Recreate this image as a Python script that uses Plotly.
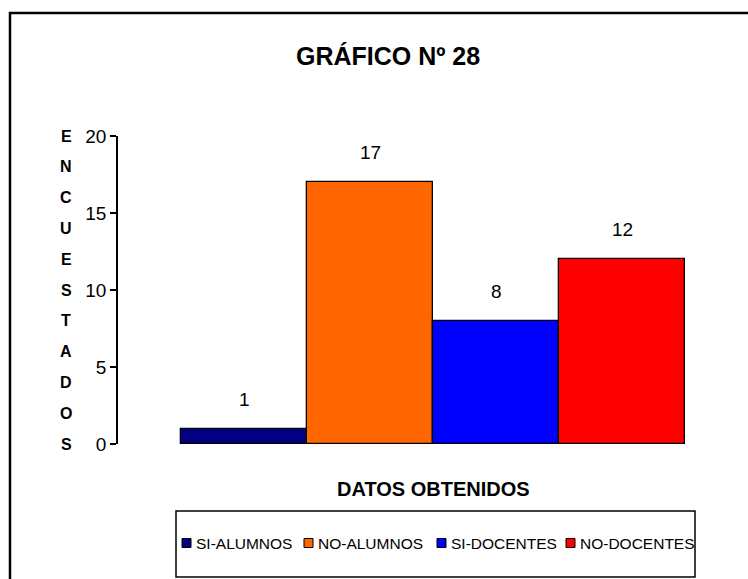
import plotly.graph_objects as go

categories = ["SI-ALUMNOS", "NO-ALUMNOS", "SI-DOCENTES", "NO-DOCENTES"]
values = [1, 17, 8, 12]
colors = ["#000080", "#FF6600", "#0000FF", "#FF0000"]
y_ticks = [0, 5, 10, 15, 20]
y_letters = list("ENCUESTADOS")

FONT = "Liberation Sans, Arial, sans-serif"

W, H = 748, 579
L, R, T, B = 118, 0, 136, 135
pw, ph = W - L - R, H - T - B


def px(x):
    return (x - L) / pw


def py(y):
    return (H - B - y) / ph


fig = go.Figure()
for cat, val, col in zip(categories, values, colors):
    fig.add_trace(go.Bar(
        x=[cat], y=[val], name=cat,
        marker=dict(color=col, line=dict(color="black", width=1.3)),
        showlegend=False,
    ))

annotations = [
    dict(text="<b>GRÁFICO Nº 28</b>", x=px(388), y=py(56), xref="paper", yref="paper",
         showarrow=False, font=dict(family=FONT, size=25, color="black"),
         xanchor="center", yanchor="middle"),
    dict(text="<b>DATOS OBTENIDOS</b>", x=px(433), y=py(489), xref="paper", yref="paper",
         showarrow=False, font=dict(family=FONT, size=20, color="black"),
         xanchor="center", yanchor="middle"),
]
# value labels above bars
for cat, val in zip(categories, values):
    annotations.append(dict(
        text=str(val), x=cat, y=val, xref="x", yref="y", showarrow=False,
        font=dict(family=FONT, size=19, color="black"),
        xanchor="center", yanchor="bottom", yshift=17))

# vertical axis title, one letter per line
n = len(y_letters)
for i, ch in enumerate(y_letters):
    annotations.append(dict(
        text=f"<b>{ch}</b>", x=px(66), y=20 - i * 20 / (n - 1), xref="paper", yref="y",
        showarrow=False, font=dict(family=FONT, size=16, color="black"),
        xanchor="center", yanchor="middle"))

# manual legend (box, swatches, labels)
legend_x = [182, 304, 437, 566]
legend_y = 543
shapes = [
    dict(type="rect", xref="paper", yref="paper",
         x0=px(10), x1=px(755), y0=py(586), y1=py(13),
         line=dict(color="black", width=2.5), fillcolor="rgba(0,0,0,0)", layer="below"),
    dict(type="rect", xref="paper", yref="paper",
         x0=px(176), x1=px(695), y0=py(577), y1=py(511),
         line=dict(color="black", width=1.5), fillcolor="rgba(0,0,0,0)", layer="below"),
]
for cat, col, lx in zip(categories, colors, legend_x):
    shapes.append(dict(type="rect", xref="paper", yref="paper",
                       x0=px(lx), x1=px(lx + 9), y0=py(legend_y + 4.5), y1=py(legend_y - 4.5),
                       line=dict(color="black", width=1), fillcolor=col))
    annotations.append(dict(text=cat, x=px(lx + 12), y=py(legend_y), xref="paper", yref="paper",
                            showarrow=False, font=dict(family=FONT, size=15.5, color="black"),
                            xanchor="left", yanchor="middle"))

fig.update_layout(
    width=W, height=H,
    margin=dict(l=L, r=R, t=T, b=B),
    paper_bgcolor="white", plot_bgcolor="white",
    barmode="overlay", bargap=0,
    showlegend=False,
    xaxis=dict(range=[-1, 4], showticklabels=False, showgrid=False, zeroline=False,
               showline=False, ticks=""),
    yaxis=dict(range=[0, 20], tickvals=y_ticks, showgrid=False, zeroline=False,
               showline=True, linecolor="black", linewidth=1.5, ticks="outside",
               ticklen=6, tickcolor="black", tickwidth=1.5,
               tickfont=dict(family=FONT, size=19, color="black")),
    annotations=annotations,
    shapes=shapes,
)

fig.write_html("out.html", config={"displayModeBar": False},
               post_script="document.body.style.margin='0';")
